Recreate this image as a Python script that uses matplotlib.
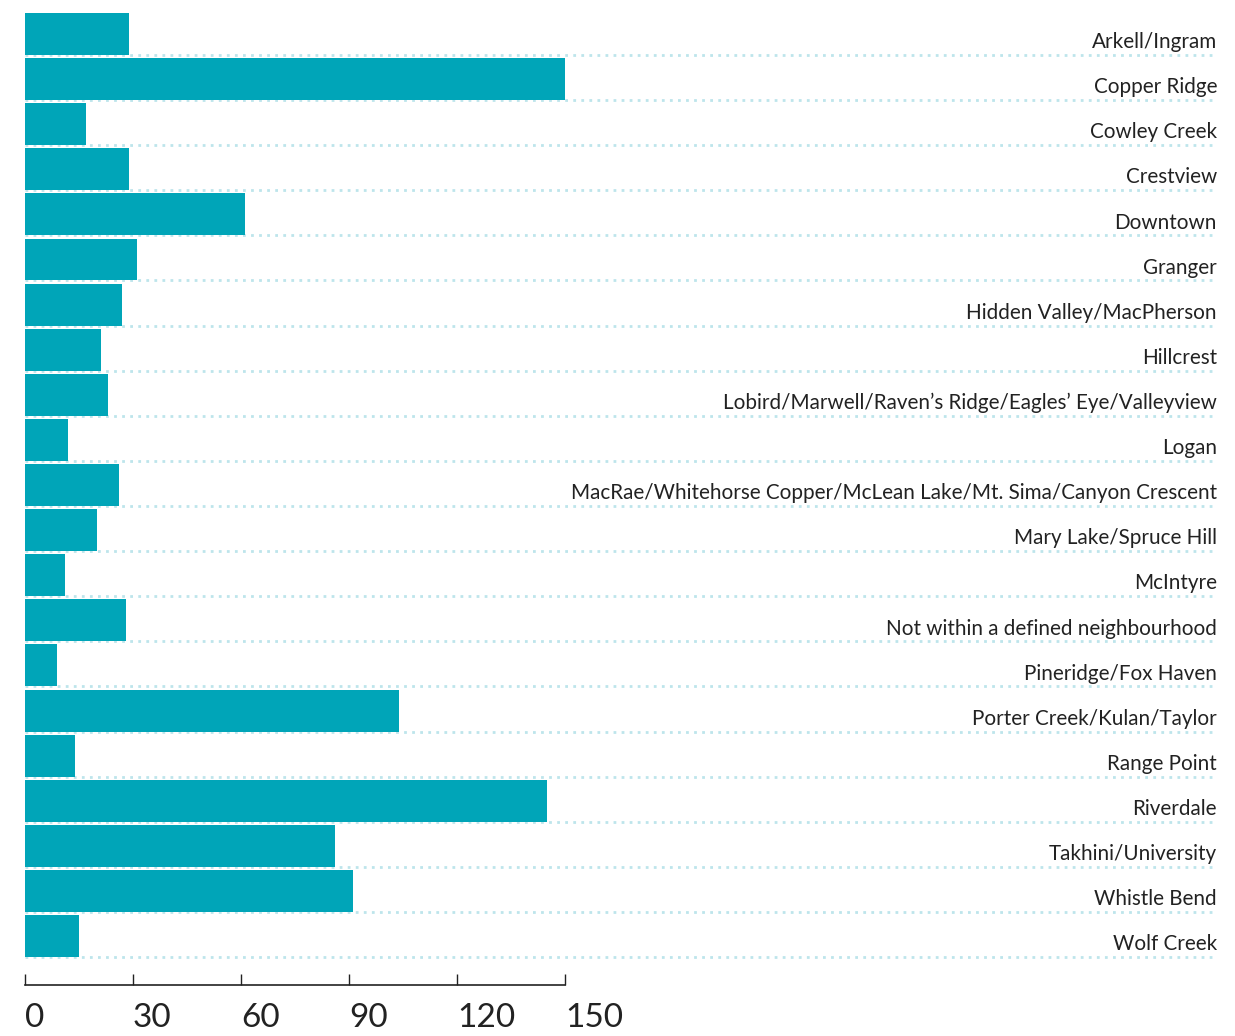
import matplotlib
matplotlib.use("Agg")
import matplotlib.pyplot as plt

plt.rcParams["font.family"] = ["Lato", "DejaVu Sans"]

neighbourhoods = [
    "Arkell/Ingram",
    "Copper Ridge",
    "Cowley Creek",
    "Crestview",
    "Downtown",
    "Granger",
    "Hidden Valley/MacPherson",
    "Hillcrest",
    "Lobird/Marwell/Raven\u2019s Ridge/Eagles\u2019 Eye/Valleyview",
    "Logan",
    "MacRae/Whitehorse Copper/McLean Lake/Mt. Sima/Canyon Crescent",
    "Mary Lake/Spruce Hill",
    "McIntyre",
    "Not within a defined neighbourhood",
    "Pineridge/Fox Haven",
    "Porter Creek/Kulan/Taylor",
    "Range Point",
    "Riverdale",
    "Takhini/University",
    "Whistle Bend",
    "Wolf Creek",
]
counts = [29, 150, 17, 29, 61, 31, 27, 21, 23, 12, 26, 20, 11, 28, 9, 104, 14, 145, 86, 91, 15]
x_ticks = [0, 30, 60, 90, 120, 150]

BAR = "#00a5b8"
DOTS = "#bde5eb"
TEXT = "#222222"

W, H = 1235, 1036
fig = plt.figure(figsize=(W / 100, H / 100), dpi=100)
ax = fig.add_axes([25 / W, (H - 985) / H, (1217 - 25) / W, (985 - 13) / H])

bar_h = 0.93
rows = list(range(len(neighbourhoods)))
x_max = (1217 - 25) / 3.6

for i, (name, v) in enumerate(zip(neighbourhoods, counts)):
    bottom = i + bar_h / 2
    ax.plot([0, x_max], [bottom, bottom], color=DOTS, lw=2.0,
            linestyle=(0, (1, 1.9)), zorder=1, solid_capstyle="butt")
    ax.text(x_max, bottom - 0.15, name, ha="right", va="baseline",
            fontsize=14.9, fontweight="normal", color=TEXT, zorder=3)

ax.barh(rows, counts, height=bar_h, color=BAR, zorder=2)

ax.set_xlim(0, x_max)
ax.set_ylim(len(rows) - 1 + bar_h / 2 + 0.62, -bar_h / 2)

for side in ["top", "right", "left"]:
    ax.spines[side].set_visible(False)
ax.spines["bottom"].set_bounds(0, 150)
ax.spines["bottom"].set_color(TEXT)
ax.spines["bottom"].set_linewidth(1.2)

ax.set_yticks([])
ax.set_xticks(x_ticks)
ax.set_xticklabels([str(t) for t in x_ticks])
ax.tick_params(axis="x", direction="in", length=8, width=1, color=TEXT,
               labelsize=24, labelcolor=TEXT, pad=13)
for lbl in ax.get_xticklabels():
    lbl.set_horizontalalignment("left")

fig.savefig("out.png", dpi=100)
